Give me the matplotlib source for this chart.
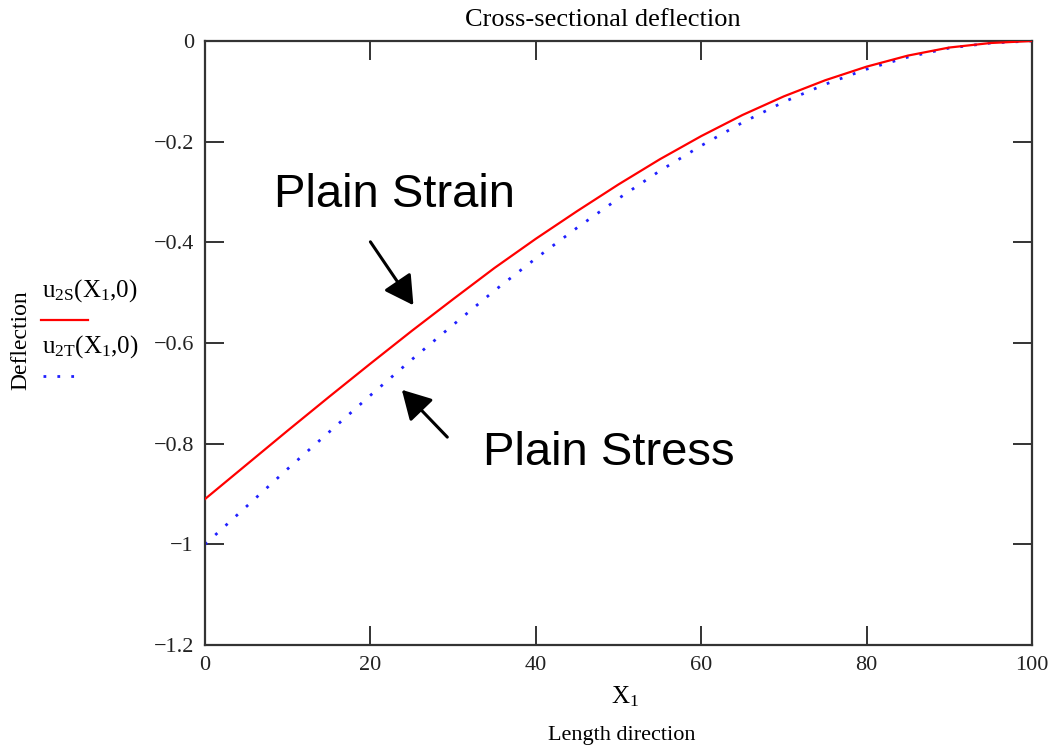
"""Cross-sectional deflection: plain strain vs plain stress along the length."""

import matplotlib
matplotlib.use("Agg")
import matplotlib.pyplot as plt
from matplotlib.lines import Line2D

# values (every 5 units of X1)
x1 = [0, 5, 10, 15, 20, 25, 30, 35, 40, 45, 50, 55, 60, 65, 70, 75, 80, 85, 90, 95, 100]
u2s = [-0.910, -0.842, -0.774, -0.707, -0.641, -0.576, -0.513, -0.451, -0.393, -0.338, -0.285,
       -0.235, -0.189, -0.147, -0.110, -0.078, -0.051, -0.029, -0.013, -0.004, 0.0]
u2t = [-1.000, -0.925, -0.850, -0.777, -0.704, -0.633, -0.564, -0.496, -0.432, -0.371, -0.313,
       -0.258, -0.208, -0.162, -0.121, -0.086, -0.056, -0.032, -0.014, -0.004, 0.0]
x_ticks = [0, 20, 40, 60, 80, 100]
y_ticks = [0, -0.2, -0.4, -0.6, -0.8, -1, -1.2]
y_ticklabels = ["0", "\u22120.2", "\u22120.4", "\u22120.6", "\u22120.8", "\u22121", "\u22121.2"]

SERIF = "Liberation Serif"
SANS = "Liberation Sans"
AXC = "#333333"

plt.rcParams.update({
    "font.family": SERIF,
    "mathtext.fontset": "custom",
    "mathtext.rm": SERIF,
    "mathtext.it": SERIF,
    "mathtext.default": "regular",
})

fig = plt.figure(figsize=(10.53, 7.48), dpi=100)
ax = fig.add_axes([0.1947, 0.1377, 0.7853, 0.8075])

ax.plot(x1, u2s, color="#ff0000", lw=1.6, zorder=3)
ax.plot(x1, u2t, color="#2020ff", lw=2.0, ls=(0, (1, 4)), zorder=2)

ax.set_xlim(0, 100)
ax.set_ylim(-1.2, 0)
ax.set_xticks(x_ticks)
ax.set_xticklabels([str(v) for v in x_ticks])
ax.set_yticks(y_ticks)
ax.set_yticklabels(y_ticklabels)
ax.tick_params(direction="in", length=14, width=1.4, color=AXC, labelsize=16,
               labelcolor="#222222", top=True, right=True, pad=8)
for s in ax.spines.values():
    s.set_linewidth(1.6)
    s.set_color(AXC)

# title and axis labels outside the frame
fig.text(0.572, 0.973, "Cross-sectional deflection", fontsize=19, ha="center", va="center")
fig.text(0.594, 0.068, "X$_1$", fontsize=18, ha="center", va="center")
fig.text(0.590, 0.017, "Length direction", fontsize=16, ha="center", va="center")
fig.text(0.020, 0.545, "Deflection", fontsize=17, rotation=90, ha="center", va="center")

# legend drawn by hand at the left edge
fig.text(0.040, 0.612, "u$_{2S}$(X$_1$,0)", fontsize=18, ha="left", va="center")
fig.add_artist(Line2D([0.039, 0.084], [0.572, 0.572], color="#ff0000", lw=1.6,
                      transform=fig.transFigure))
fig.text(0.040, 0.537, "u$_{2T}$(X$_1$,0)", fontsize=18, ha="left", va="center")
fig.add_artist(Line2D([0.041, 0.076], [0.497, 0.497], color="#2020ff", lw=2.0,
                      ls=(0, (1, 4)), transform=fig.transFigure))

# annotations
arrow = dict(arrowstyle="-|>,head_length=0.8,head_width=0.45", color="black", lw=2.2,
             mutation_scale=22, shrinkA=0, shrinkB=0)
ax.text(8.4, -0.306, "Plain Strain", fontsize=34, family=SANS, ha="left", va="center")
ax.annotate("", xy=(25.2, -0.525), xytext=(20.0, -0.399), arrowprops=arrow)
ax.annotate("", xy=(23.8, -0.693), xytext=(29.3, -0.787), arrowprops=arrow)
ax.text(33.6, -0.819, "Plain Stress", fontsize=34, family=SANS, ha="left", va="center")

fig.savefig("out.png", dpi=100)
